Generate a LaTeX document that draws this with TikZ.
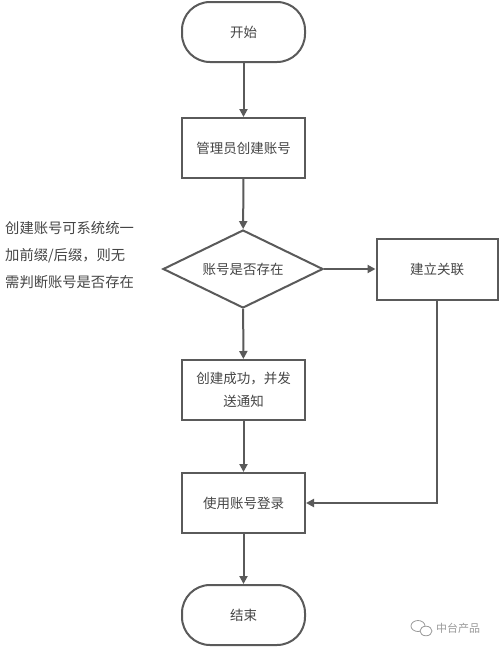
\documentclass[tikz,border=0pt]{standalone}
\usepackage{fontspec}
\setmainfont{Noto Sans CJK SC}
\usetikzlibrary{arrows.meta,shapes.geometric}
\definecolor{ln}{HTML}{5A5A5A}
\definecolor{tx}{HTML}{454545}
\definecolor{wm}{HTML}{9A9A9A}
\begin{document}
\begin{tikzpicture}[x=1pt,y=-1pt,
  box/.style={draw=ln,line width=2pt,minimum width=123pt,minimum height=60pt,inner sep=0pt,text=tx,
    font=\fontsize{13.5}{23}\selectfont,align=center},
  term/.style={box,rounded corners=28pt},
  dec/.style={draw=ln,line width=2pt,diamond,aspect=2,minimum width=160pt,minimum height=78pt,inner sep=0pt,
    text=tx,font=\fontsize{13.5}{23}\selectfont},
  arr/.style={draw=ln,line width=2pt,-{Triangle[length=8pt,width=8pt]}}]
\fill[white] (0,0) rectangle (500,649);
\useasboundingbox (0,0) rectangle (500,649);
\node[term] (start) at (243.5,32) {开始};
\node[box] (admin) at (243.5,148) {管理员创建账号};
\node[dec] (dec) at (243,269) {账号是否存在};
\node[box,minimum width=121pt,minimum height=61pt] (link) at (437,269) {建立关联};
\node[box] (ok) at (243.5,390) {创建成功，并发\\送通知};
\node[box] (login) at (243.5,503) {使用账号登录};
\node[term] (end) at (243.5,615) {结束};
\node[anchor=north west,inner sep=0pt,align=left,text=tx,font=\fontsize{14.3}{27}\selectfont] (note) at (5,221)
  {创建账号可系统统一\\加前缀/后缀，则无\\需判断账号是否存在};
\draw[arr] (start) -- (admin);
\draw[arr] (admin) -- (dec);
\draw[arr] (dec) -- (link);
\draw[arr] (dec) -- (ok);
\draw[arr] (ok) -- (login);
\draw[arr] (link.south) |- (login.east);
\draw[arr] (login) -- (end);
% watermark
\node[anchor=west,inner sep=0pt,text=wm,font=\fontsize{11}{13}\selectfont] (wmtext) at (436,628) {中台产品};
\draw[wm,line width=0.8pt] (418,626) ellipse (7pt and 5.5pt);
\draw[wm,line width=0.8pt,fill=white] (426,631) ellipse (6pt and 4.8pt);
\end{tikzpicture}
\end{document}
